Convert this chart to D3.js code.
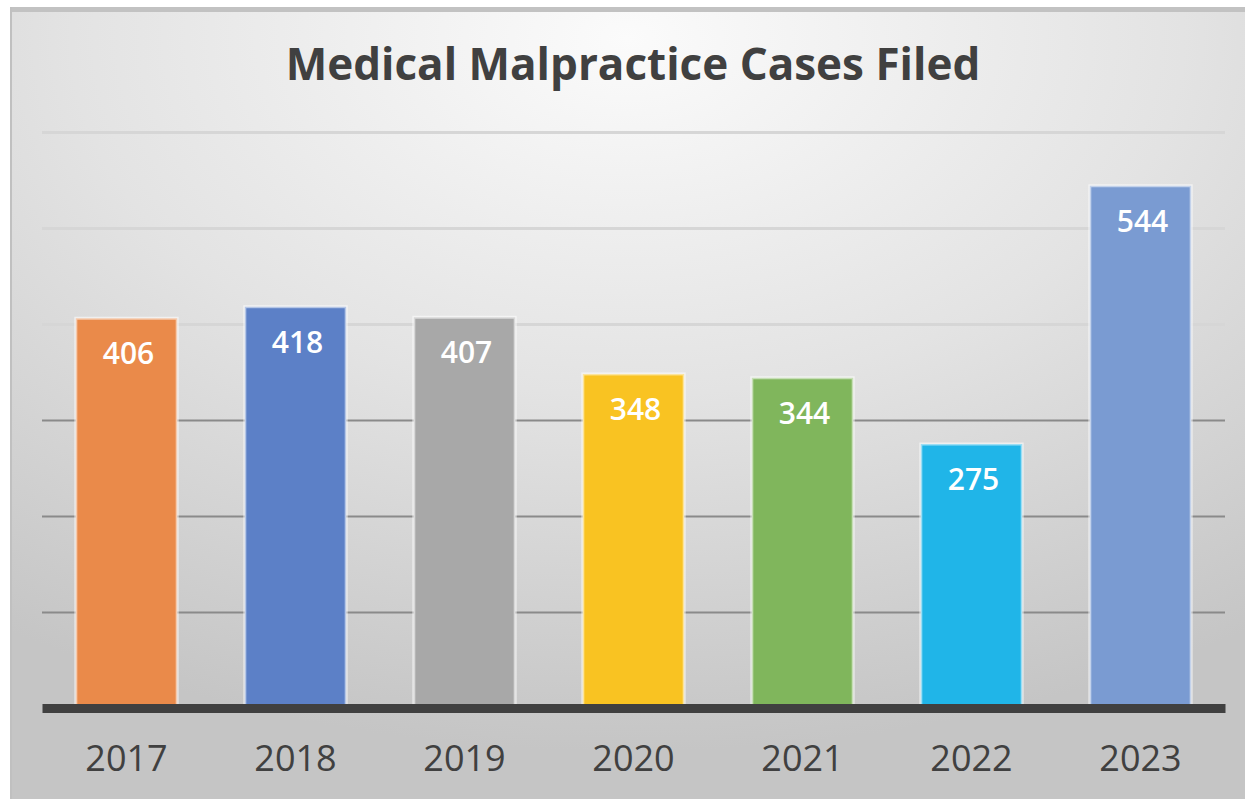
<!DOCTYPE html>
<html>
<head>
<meta charset="utf-8">
<script src="https://cdn.jsdelivr.net/npm/d3@7"></script>
<style>
  body { margin: 0; background: #ffffff; }
  svg { display: block; }
</style>
</head>
<body>
<div id="chart"></div>
<script>
// data
const years = ["2017", "2018", "2019", "2020", "2021", "2022", "2023"];
const cases = [406, 418, 407, 348, 344, 275, 544];
const barColors = ["#EA8A4A", "#5C80C7", "#A8A8A8", "#F9C322", "#80B65C", "#20B5E8", "#7A9BD2"];
const gridTicks = [100, 200, 300, 400, 500, 600];
const chartTitle = "Medical Malpractice Cases Filed";

const WIDTH = 1245, HEIGHT = 799;
const MARGIN = {left: 42, right: 20, top: 132, bottom: 91};

let svg = d3.select('#chart')
  .append('svg')
  .attr('width', WIDTH)
  .attr('height', HEIGHT);

// background gradient
let defs = svg.append('defs');
let grad = defs.append('radialGradient')
  .attr('id', 'bg')
  .attr('cx', '50%').attr('cy', '4%')
  .attr('r', '90%')
  .attr('gradientUnits', 'objectBoundingBox');
grad.append('stop').attr('offset', '0%').attr('stop-color', '#fbfbfb');
grad.append('stop').attr('offset', '50%').attr('stop-color', '#e3e3e3');
grad.append('stop').attr('offset', '100%').attr('stop-color', '#c5c5c5');

svg.append('rect')
  .attr('x', 10).attr('y', 7)
  .attr('width', WIDTH - 10).attr('height', HEIGHT - 7)
  .attr('fill', 'url(#bg)');
svg.append('rect')
  .attr('x', 10).attr('y', 7)
  .attr('width', WIDTH - 10).attr('height', 5)
  .attr('fill', '#c2c2c2');
svg.append('rect')
  .attr('x', 10).attr('y', 7)
  .attr('width', 2).attr('height', HEIGHT - 7)
  .attr('fill', '#c0c0c0');

//scales
const xScale = d3.scaleBand()
  .domain(years)
  .range([MARGIN.left, WIDTH - MARGIN.right])
  .paddingInner(0.4)
  .paddingOuter(0.2);

const yScale = d3.scaleLinear()
  .domain([0, 600])
  .range([HEIGHT - MARGIN.bottom, MARGIN.top]);

// gridlines
let gridG = svg.append('g')
  .attr('transform', `translate(${MARGIN.left},0)`)
  .call(d3.axisLeft(yScale).tickValues(gridTicks).tickSize(-(WIDTH - MARGIN.right - MARGIN.left)).tickFormat(''));
gridG.select('.domain').remove();
gridG.selectAll('.tick line')
  .attr('stroke', d => d <= 300 ? '#8a8a8a' : '#d6d6d6')
  .attr('stroke-width', d => d <= 300 ? 2 : 3);

// bars
let barG = svg.append('g');
barG.selectAll('rect')
  .data(cases)
  .join('rect')
  .attr('x', (d, i) => xScale(years[i]))
  .attr('y', d => yScale(d))
  .attr('width', xScale.bandwidth())
  .attr('height', d => yScale(0) - yScale(d))
  .attr('fill', (d, i) => barColors[i])
  .attr('stroke', 'rgba(255,255,255,0.55)')
  .attr('stroke-width', 3);

// value labels
barG.selectAll('text')
  .data(cases)
  .join('text')
  .attr('x', (d, i) => xScale(years[i]) + xScale.bandwidth() / 2 + 2)
  .attr('y', d => yScale(d) + 46)
  .attr('text-anchor', 'middle')
  .attr('fill', '#ffffff')
  .style('font-family', '"Open Sans", sans-serif')
  .style('font-weight', 600)
  .style('font-size', '30px')
  .text(d => d);

// x axis baseline + labels
let xAxisG = svg.append('g')
  .attr('transform', `translate(0,${yScale(0)})`)
  .call(d3.axisBottom(xScale).tickSize(0).tickPadding(37));
xAxisG.select('.domain')
  .attr('stroke', '#404040')
  .attr('stroke-width', 9);
xAxisG.selectAll('text')
  .attr('fill', '#404040')
  .style('font-family', '"Open Sans", sans-serif')
  .style('font-size', '36px');

// title
svg.append('text')
  .attr('x', 633)
  .attr('y', 80)
  .attr('text-anchor', 'middle')
  .attr('fill', '#404040')
  .style('font-family', '"Open Sans", sans-serif')
  .style('font-weight', 700)
  .style('font-size', '44px')
  .text(chartTitle);
</script>
</body>
</html>
